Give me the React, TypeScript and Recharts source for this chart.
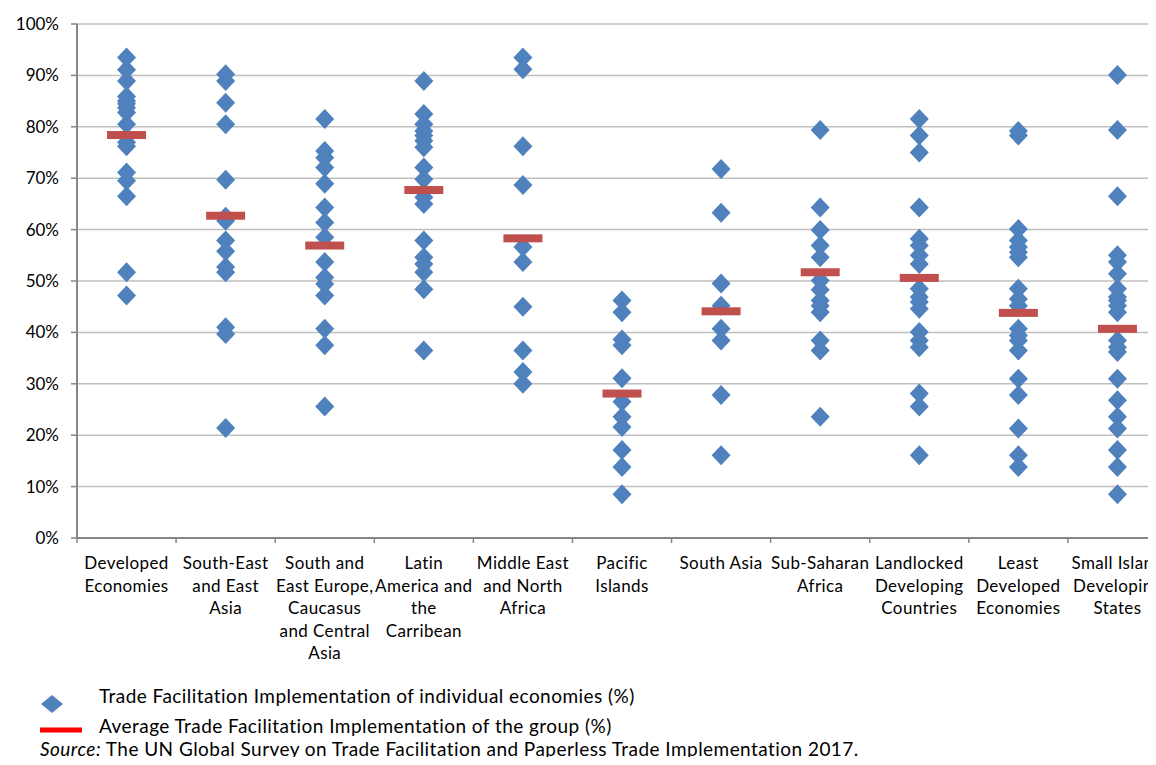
import React from "react";
import { ComposedChart, Scatter, XAxis, YAxis, CartesianGrid } from "recharts";

// ── Data ────────────────────────────────────────────────────────────

const categoryLines: string[][] = [
  ["Developed", "Economies"],
  ["South-East", "and East", "Asia"],
  ["South and", "East Europe,", "Caucasus", "and Central", "Asia"],
  ["Latin", "America and", "the", "Carribean"],
  ["Middle East", "and North", "Africa"],
  ["Pacific", "Islands"],
  ["South Asia"],
  ["Sub-Saharan", "Africa"],
  ["Landlocked", "Developing", "Countries"],
  ["Least", "Developed", "Economies"],
  ["Small Island", "Developing", "States"],
];

const developed = [93.5, 91.1, 88.9, 85.9, 85.0, 84.5, 83.7, 82.8, 80.5, 77.0, 76.2, 71.1, 69.5, 66.5, 51.7, 47.2];
const seEastAsia = [90.2, 88.9, 84.7, 80.5, 69.7, 62.5, 61.7, 57.9, 55.8, 52.7, 51.7, 41.0, 39.7, 21.4];
const seEurope = [81.5, 75.3, 74.0, 72.1, 68.9, 64.3, 61.4, 58.5, 53.7, 50.7, 49.4, 47.2, 40.7, 37.5, 25.6];
const latinAmerica = [88.9, 82.5, 80.5, 79.2, 78.3, 77.3, 76.0, 72.1, 69.8, 66.3, 65.0, 57.9, 54.6, 53.3, 51.7, 48.4, 36.5];
const middleEast = [93.5, 91.2, 76.2, 68.7, 56.6, 53.7, 45.0, 36.5, 32.3, 30.0];
const pacific = [46.2, 43.9, 38.6, 37.5, 31.1, 26.5, 23.6, 21.6, 17.1, 13.8, 8.5];
const southAsia = [71.8, 63.3, 49.5, 45.2, 40.7, 38.4, 27.8, 16.1];
const subSaharan = [79.4, 64.3, 59.9, 56.9, 54.6, 50.1, 48.3, 46.2, 45.2, 43.9, 38.4, 36.5, 23.6];
const landlocked = [81.5, 78.3, 75.0, 64.3, 58.2, 56.9, 55.0, 53.3, 48.5, 46.9, 45.9, 44.6, 40.1, 38.4, 37.1, 28.1, 25.6, 16.1];
const leastDeveloped = [79.2, 78.3, 60.1, 57.9, 56.6, 55.6, 54.6, 48.5, 46.5, 45.2, 40.7, 39.4, 38.4, 36.5, 31.0, 27.8, 21.3, 16.1, 13.8];
const smallIsland = [90.1, 79.4, 66.5, 55.0, 53.7, 51.4, 48.5, 46.9, 46.2, 45.2, 43.9, 38.4, 37.1, 36.2, 31.0, 26.8, 23.6, 21.3, 17.1, 13.8, 8.5];

const groupAverages = [78.4, 62.7, 56.9, 67.7, 58.3, 28.1, 44.1, 51.7, 50.6, 43.8, 40.7];

const yTicks = [0, 10, 20, 30, 40, 50, 60, 70, 80, 90, 100];

// ── Derived rows ────────────────────────────────────────────────────

const groups = [
  developed, seEastAsia, seEurope, latinAmerica, middleEast, pacific,
  southAsia, subSaharan, landlocked, leastDeveloped, smallIsland,
];

const pointRows = groups.flatMap((vals, i) => vals.map((v) => ({ x: i + 0.5, y: v })));
const avgRows = groupAverages.map((v, i) => ({ x: i + 0.5, y: v }));
const boundaryTicks = categoryLines.map((_, i) => i).concat(categoryLines.length);
const centerTicks = categoryLines.map((_, i) => i + 0.5);

const FONT = "Lato, 'Open Sans', sans-serif";
const BLUE = "#4F81BD";

// ── Shapes ──────────────────────────────────────────────────────────

function Diamond(props: any) {
  const { cx, cy } = props;
  const w = 9.5;
  const h = 10;
  return (
    <polygon
      points={`${cx},${cy - h} ${cx + w},${cy} ${cx},${cy + h} ${cx - w},${cy}`}
      fill={BLUE}
    />
  );
}

function AvgBar(props: any) {
  const { cx, cy } = props;
  return <rect x={cx - 19.5} y={cy - 4} width={39} height={8} fill="#C0504D" />;
}

function CategoryTick(props: any) {
  const { x, y, payload } = props;
  const lines = categoryLines[Math.floor(payload.value)] || [];
  return (
    <text
      x={x}
      y={y}
      textAnchor="middle"
      fontSize={17}
      letterSpacing={0.4}
      fill="#000"
      fontFamily={FONT}
    >
      {lines.map((l, i) => (
        <tspan key={i} x={x} dy={i === 0 ? 25 : 22.6}>
          {l}
        </tspan>
      ))}
    </text>
  );
}

// ── App ─────────────────────────────────────────────────────────────

export default function App() {
  return (
    <div
      style={{
        position: "relative",
        margin: -8,
        width: 1156,
        height: 765,
        overflow: "hidden",
        background: "#fff",
        fontFamily: FONT,
      }}
    >
      <ComposedChart
        width={1180}
        height={675}
        margin={{ top: 24, right: 13, left: 0, bottom: 0 }}
      >
        <CartesianGrid
          horizontal
          vertical={false}
          stroke="#BFBFBF"
          strokeWidth={1.5}
          yAxisId="v"
          xAxisId="cells"
        />
        <XAxis
          xAxisId="cells"
          type="number"
          dataKey="x"
          domain={[0, 11]}
          ticks={boundaryTicks}
          interval={0}
          height={6}
          axisLine={{ stroke: "#868686", strokeWidth: 2 }}
          tickLine={{ stroke: "#868686", strokeWidth: 1.5 }}
          tickSize={5}
          tick={() => <g />}
        />
        <XAxis
          xAxisId="labels"
          type="number"
          dataKey="x"
          domain={[0, 11]}
          ticks={centerTicks}
          interval={0}
          height={131}
          axisLine={false}
          tickLine={false}
          tickSize={0}
          tickMargin={0}
          tick={<CategoryTick />}
        />
        <YAxis
          yAxisId="v"
          type="number"
          domain={[0, 100]}
          ticks={yTicks}
          interval={0}
          width={77}
          axisLine={{ stroke: "#868686", strokeWidth: 2 }}
          tickLine={{ stroke: "#868686", strokeWidth: 1.5 }}
          tickSize={6}
          tickMargin={12}
          tickFormatter={(v: number) => `${v}%`}
          tick={{ fill: "#000", fontSize: 17, fontFamily: FONT }}
        />
        {/* invisible series so the label axis gets drawn */}
        <Scatter
          xAxisId="labels"
          yAxisId="v"
          data={avgRows}
          dataKey="y"
          shape={() => <g />}
          isAnimationActive={false}
        />
        <Scatter
          xAxisId="cells"
          yAxisId="v"
          data={pointRows}
          dataKey="y"
          shape={<Diamond />}
          isAnimationActive={false}
        />
        <Scatter
          xAxisId="cells"
          yAxisId="v"
          data={avgRows}
          dataKey="y"
          shape={<AvgBar />}
          isAnimationActive={false}
        />
      </ComposedChart>

      {/* Legend + source note */}
      <svg
        width={1156}
        height={90}
        style={{ position: "absolute", left: 0, top: 672 }}
        fontFamily={FONT}
        fontSize={19}
        letterSpacing={0.45}
      >
        <polygon points="52,23 63,32 52,41 41,32" fill={BLUE} />
        <rect x={40} y={55.5} width={42} height={5} fill="#FF0000" />
        <text x={99} y={31} fill="#000">
          Trade Facilitation Implementation of individual economies (%)
        </text>
        <text x={99} y={61} fill="#000">
          Average Trade Facilitation Implementation of the group (%)
        </text>
        <text x={40} y={84} fill="#000">
          <tspan fontStyle="italic">Source:</tspan> The UN Global Survey on Trade Facilitation and Paperless Trade Implementation 2017.
        </text>
      </svg>
    </div>
  );
}
